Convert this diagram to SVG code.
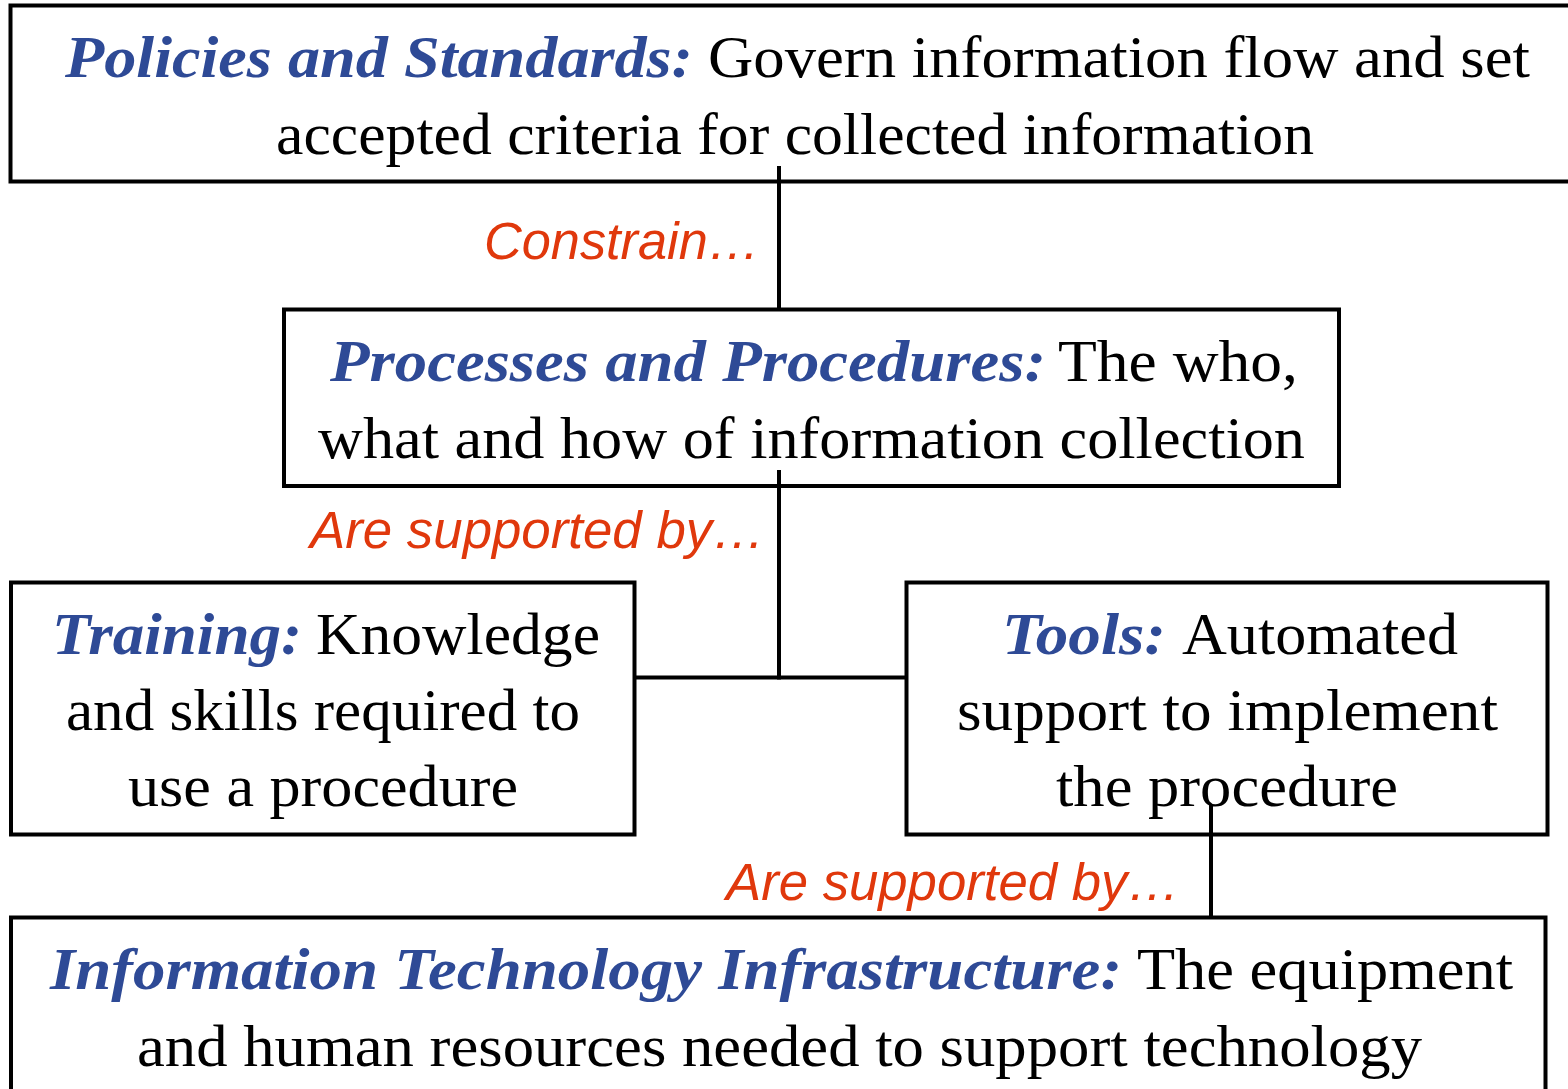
<svg xmlns="http://www.w3.org/2000/svg" width="1568" height="1089" viewBox="0 0 1568 1089">
<style>
.box{fill:#ffffff;stroke:#000000;stroke-width:4}
.con{stroke:#000000;stroke-width:4;fill:none}
.t{font-family:"Liberation Serif","Times New Roman",serif;font-size:60px;fill:#000000}
.b{font-family:"Liberation Serif","Times New Roman",serif;font-size:60px;font-weight:bold;font-style:italic;fill:#2E4A96}
.r{font-family:"Liberation Sans",Arial,sans-serif;font-size:51px;font-style:italic;fill:#E0380C}
</style>
<rect width="1568" height="1089" fill="#ffffff"/>
<g id="policies">
<rect class="box" x="10.5" y="5.5" width="1580" height="176"/>
<text class="b" x="65" y="77" textLength="628" lengthAdjust="spacingAndGlyphs">Policies and Standards:</text>
<text class="t" x="708" y="77" textLength="822" lengthAdjust="spacingAndGlyphs">Govern information flow and set</text>
<text class="t" x="276" y="154" textLength="1038" lengthAdjust="spacingAndGlyphs">accepted criteria for collected information</text>
</g>
<g id="processes">
<rect class="box" x="284" y="309.5" width="1055" height="176.5"/>
<text class="b" x="330" y="381" textLength="716" lengthAdjust="spacingAndGlyphs">Processes and Procedures:</text>
<text class="t" x="1058" y="381" textLength="240" lengthAdjust="spacingAndGlyphs">The who,</text>
<text class="t" x="318" y="458" textLength="987" lengthAdjust="spacingAndGlyphs">what and how of information collection</text>
</g>
<g id="training">
<rect class="box" x="11" y="582.5" width="623.5" height="252"/>
<text class="b" x="52" y="654" textLength="250" lengthAdjust="spacingAndGlyphs">Training:</text>
<text class="t" x="316" y="654" textLength="284" lengthAdjust="spacingAndGlyphs">Knowledge</text>
<text class="t" x="66" y="730" textLength="514" lengthAdjust="spacingAndGlyphs">and skills required to</text>
<text class="t" x="128" y="806" textLength="390" lengthAdjust="spacingAndGlyphs">use a procedure</text>
</g>
<g id="tools">
<rect class="box" x="906.5" y="582.5" width="641" height="252"/>
<text class="b" x="1002" y="654" textLength="164" lengthAdjust="spacingAndGlyphs">Tools:</text>
<text class="t" x="1182" y="654" textLength="276" lengthAdjust="spacingAndGlyphs">Automated</text>
<text class="t" x="957" y="730" textLength="541" lengthAdjust="spacingAndGlyphs">support to implement</text>
<text class="t" x="1056" y="806" textLength="342" lengthAdjust="spacingAndGlyphs">the procedure</text>
</g>
<g id="infrastructure">
<rect class="box" x="11" y="917.5" width="1534.5" height="200"/>
<text class="b" x="50" y="989" textLength="1072" lengthAdjust="spacingAndGlyphs">Information Technology Infrastructure:</text>
<text class="t" x="1137" y="989" textLength="376" lengthAdjust="spacingAndGlyphs">The equipment</text>
<text class="t" x="137" y="1066" textLength="1285" lengthAdjust="spacingAndGlyphs">and human resources needed to support technology</text>
</g>
<g id="connectors">
<line class="con" x1="779" y1="166" x2="779" y2="309.5"/>
<line class="con" x1="779" y1="470" x2="779" y2="679.5"/>
<line class="con" x1="634.5" y1="677.5" x2="906.5" y2="677.5"/>
<line class="con" x1="1211" y1="805" x2="1211" y2="917.5"/>
<text class="r" x="484" y="259" textLength="276" lengthAdjust="spacingAndGlyphs">Constrain…</text>
<text class="r" x="310" y="548" textLength="455" lengthAdjust="spacingAndGlyphs">Are supported by…</text>
<text class="r" x="726" y="900" textLength="454" lengthAdjust="spacingAndGlyphs">Are supported by…</text>
</g>
</svg>
